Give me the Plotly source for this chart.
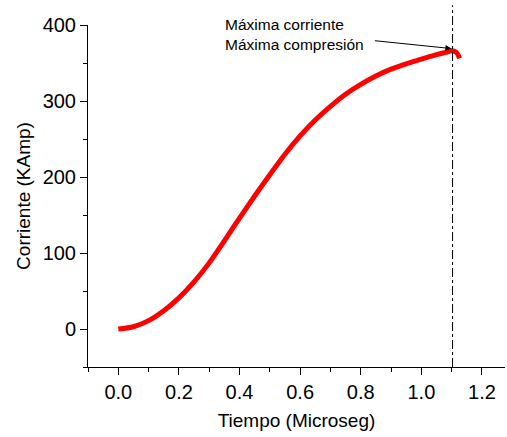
import plotly.graph_objects as go

tiempo = [0.0, 0.05, 0.1, 0.15, 0.2, 0.25, 0.3, 0.35, 0.4, 0.45, 0.5, 0.55, 0.6, 0.65,
          0.7, 0.75, 0.8, 0.85, 0.9, 0.95, 1.0, 1.05, 1.08, 1.1, 1.115, 1.122, 1.126]
corriente = [0, 3, 11, 24, 41, 62, 87, 116, 146, 175, 203, 230, 254, 275,
             293, 309, 322, 333, 342, 349, 355, 361, 364, 366, 364, 360, 356]

t_max = 1.103
anot_texto = "Máxima corriente<br>Máxima compresión"

FONT = "Arial, Liberation Sans, sans-serif"

fig = go.Figure()
fig.add_trace(go.Scatter(x=tiempo, y=corriente, mode="lines",
                         line=dict(color="#ff0000", width=5, shape="spline", smoothing=0.8),
                         showlegend=False, hoverinfo="skip"))

fig.add_shape(type="line", xref="x", yref="paper", x0=t_max, x1=t_max, y0=0, y1=1.058,
              line=dict(color="black", width=1, dash="dashdot"))

fig.add_annotation(x=1.099, y=369, xref="x", yref="y",
                   ax=-78, ay=-8, axref="pixel", ayref="pixel",
                   text="", showarrow=True, arrowhead=2, arrowsize=1.2, arrowwidth=1,
                   arrowcolor="black")
fig.add_annotation(x=0.323, y=0.971, xref="paper", yref="paper",
                   text=anot_texto, showarrow=False, align="left",
                   xanchor="left", yanchor="middle",
                   font=dict(family=FONT, size=15.5, color="black"))

axis_common = dict(showline=True, linecolor="black", linewidth=1, ticks="outside",
                   tickcolor="black", tickwidth=1, ticklen=7, showgrid=False,
                   zeroline=False, tickfont=dict(family=FONT, size=20, color="black"))

fig.update_xaxes(range=[-0.1, 1.276], tick0=0, dtick=0.2, tickformat=".1f",
                 minor=dict(dtick=0.1, tick0=0, ticks="outside", ticklen=4, tickcolor="black"),
                 title=dict(text="Tiempo (Microseg)", font=dict(family=FONT, size=19, color="black"),
                            standoff=11),
                 **axis_common)
fig.update_yaxes(range=[-50, 400], tick0=0, dtick=100,
                 minor=dict(dtick=50, tick0=0, ticks="outside", ticklen=4, tickcolor="black"),
                 title=dict(text="Corriente (KAmp)", font=dict(family=FONT, size=19, color="black"),
                            standoff=6),
                 **axis_common)

fig.update_layout(width=507, height=437, margin=dict(l=88, r=2, t=25, b=70, autoexpand=False),
                  plot_bgcolor="white", paper_bgcolor="white",
                  font=dict(family=FONT))

fig.write_html("out.html")
